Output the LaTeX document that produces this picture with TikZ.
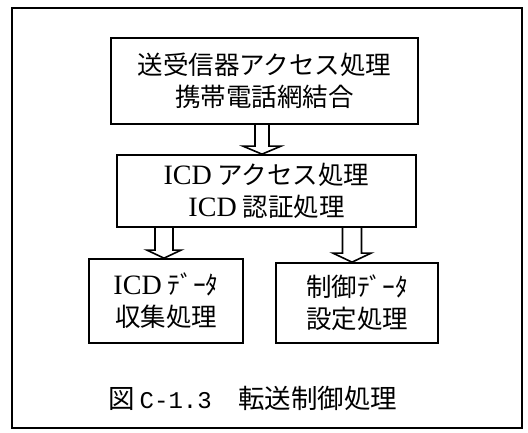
\documentclass[tikz,border=0pt]{standalone}
\usepackage{fontspec}
\setmainfont{Noto Sans CJK JP}
\newfontfamily\lat[Scale=1.1]{Liberation Serif}
\newfontfamily\mono{Liberation Mono}
\usetikzlibrary{calc}
\tikzset{
  box/.style={draw, line width=1.7pt, inner sep=0pt, align=center, font=\fontsize{25.5}{32}\selectfont},
  blk/.style={draw, line width=1.6pt, line join=miter},
  frame/.style={draw, line width=1.4pt}
}
\newcommand\myblockarrow[6]{%
  \draw[blk] (#1-#2,0 |- #5.south) -- ($(#1-#2,0 |- #6.north)+(0,-#4)$)
    -- ($(#1-#3,0 |- #6.north)+(0,-#4)$) -- (#1,0 |- #6.north)
    -- ($(#1+#3,0 |- #6.north)+(0,-#4)$) -- ($(#1+#2,0 |- #6.north)+(0,-#4)$)
    -- (#1+#2,0 |- #5.south);
}
\begin{document}
\begin{tikzpicture}[x=1pt,y=-1pt]
\useasboundingbox (0,0) rectangle (528,432);
\draw[frame] (12,8) rectangle (522,428);
\node[box, minimum width=307pt, minimum height=86pt] (b1) at (264.5,81) {送受信器アクセス処理\\携帯電話網結合};
\node[box, minimum width=299pt, minimum height=72pt] (b2) at (266.5,191) {{\lat ICD} アクセス処理\\{\lat ICD} 認証処理};
\node[box, minimum width=154pt, minimum height=84pt] (b3) at (166,301) {{\lat ICD} ﾃﾞｰﾀ\\収集処理};
\node[box, minimum width=162pt, minimum height=80pt] (b4) at (357,303) {制御ﾃﾞｰﾀ\\設定処理};
\myblockarrow{262}{7}{19}{8}{b1}{b2}
\myblockarrow{164}{9}{17}{8}{b2}{b3}
\myblockarrow{352}{9.5}{19}{9}{b2}{b4}
\node[font=\fontsize{26.5}{30}\selectfont] (cap) at (253,398) {図\,{\mono\fontsize{24}{30}\selectfont C-1.3}\hspace{1em}転送制御処理};
\end{tikzpicture}
\end{document}
